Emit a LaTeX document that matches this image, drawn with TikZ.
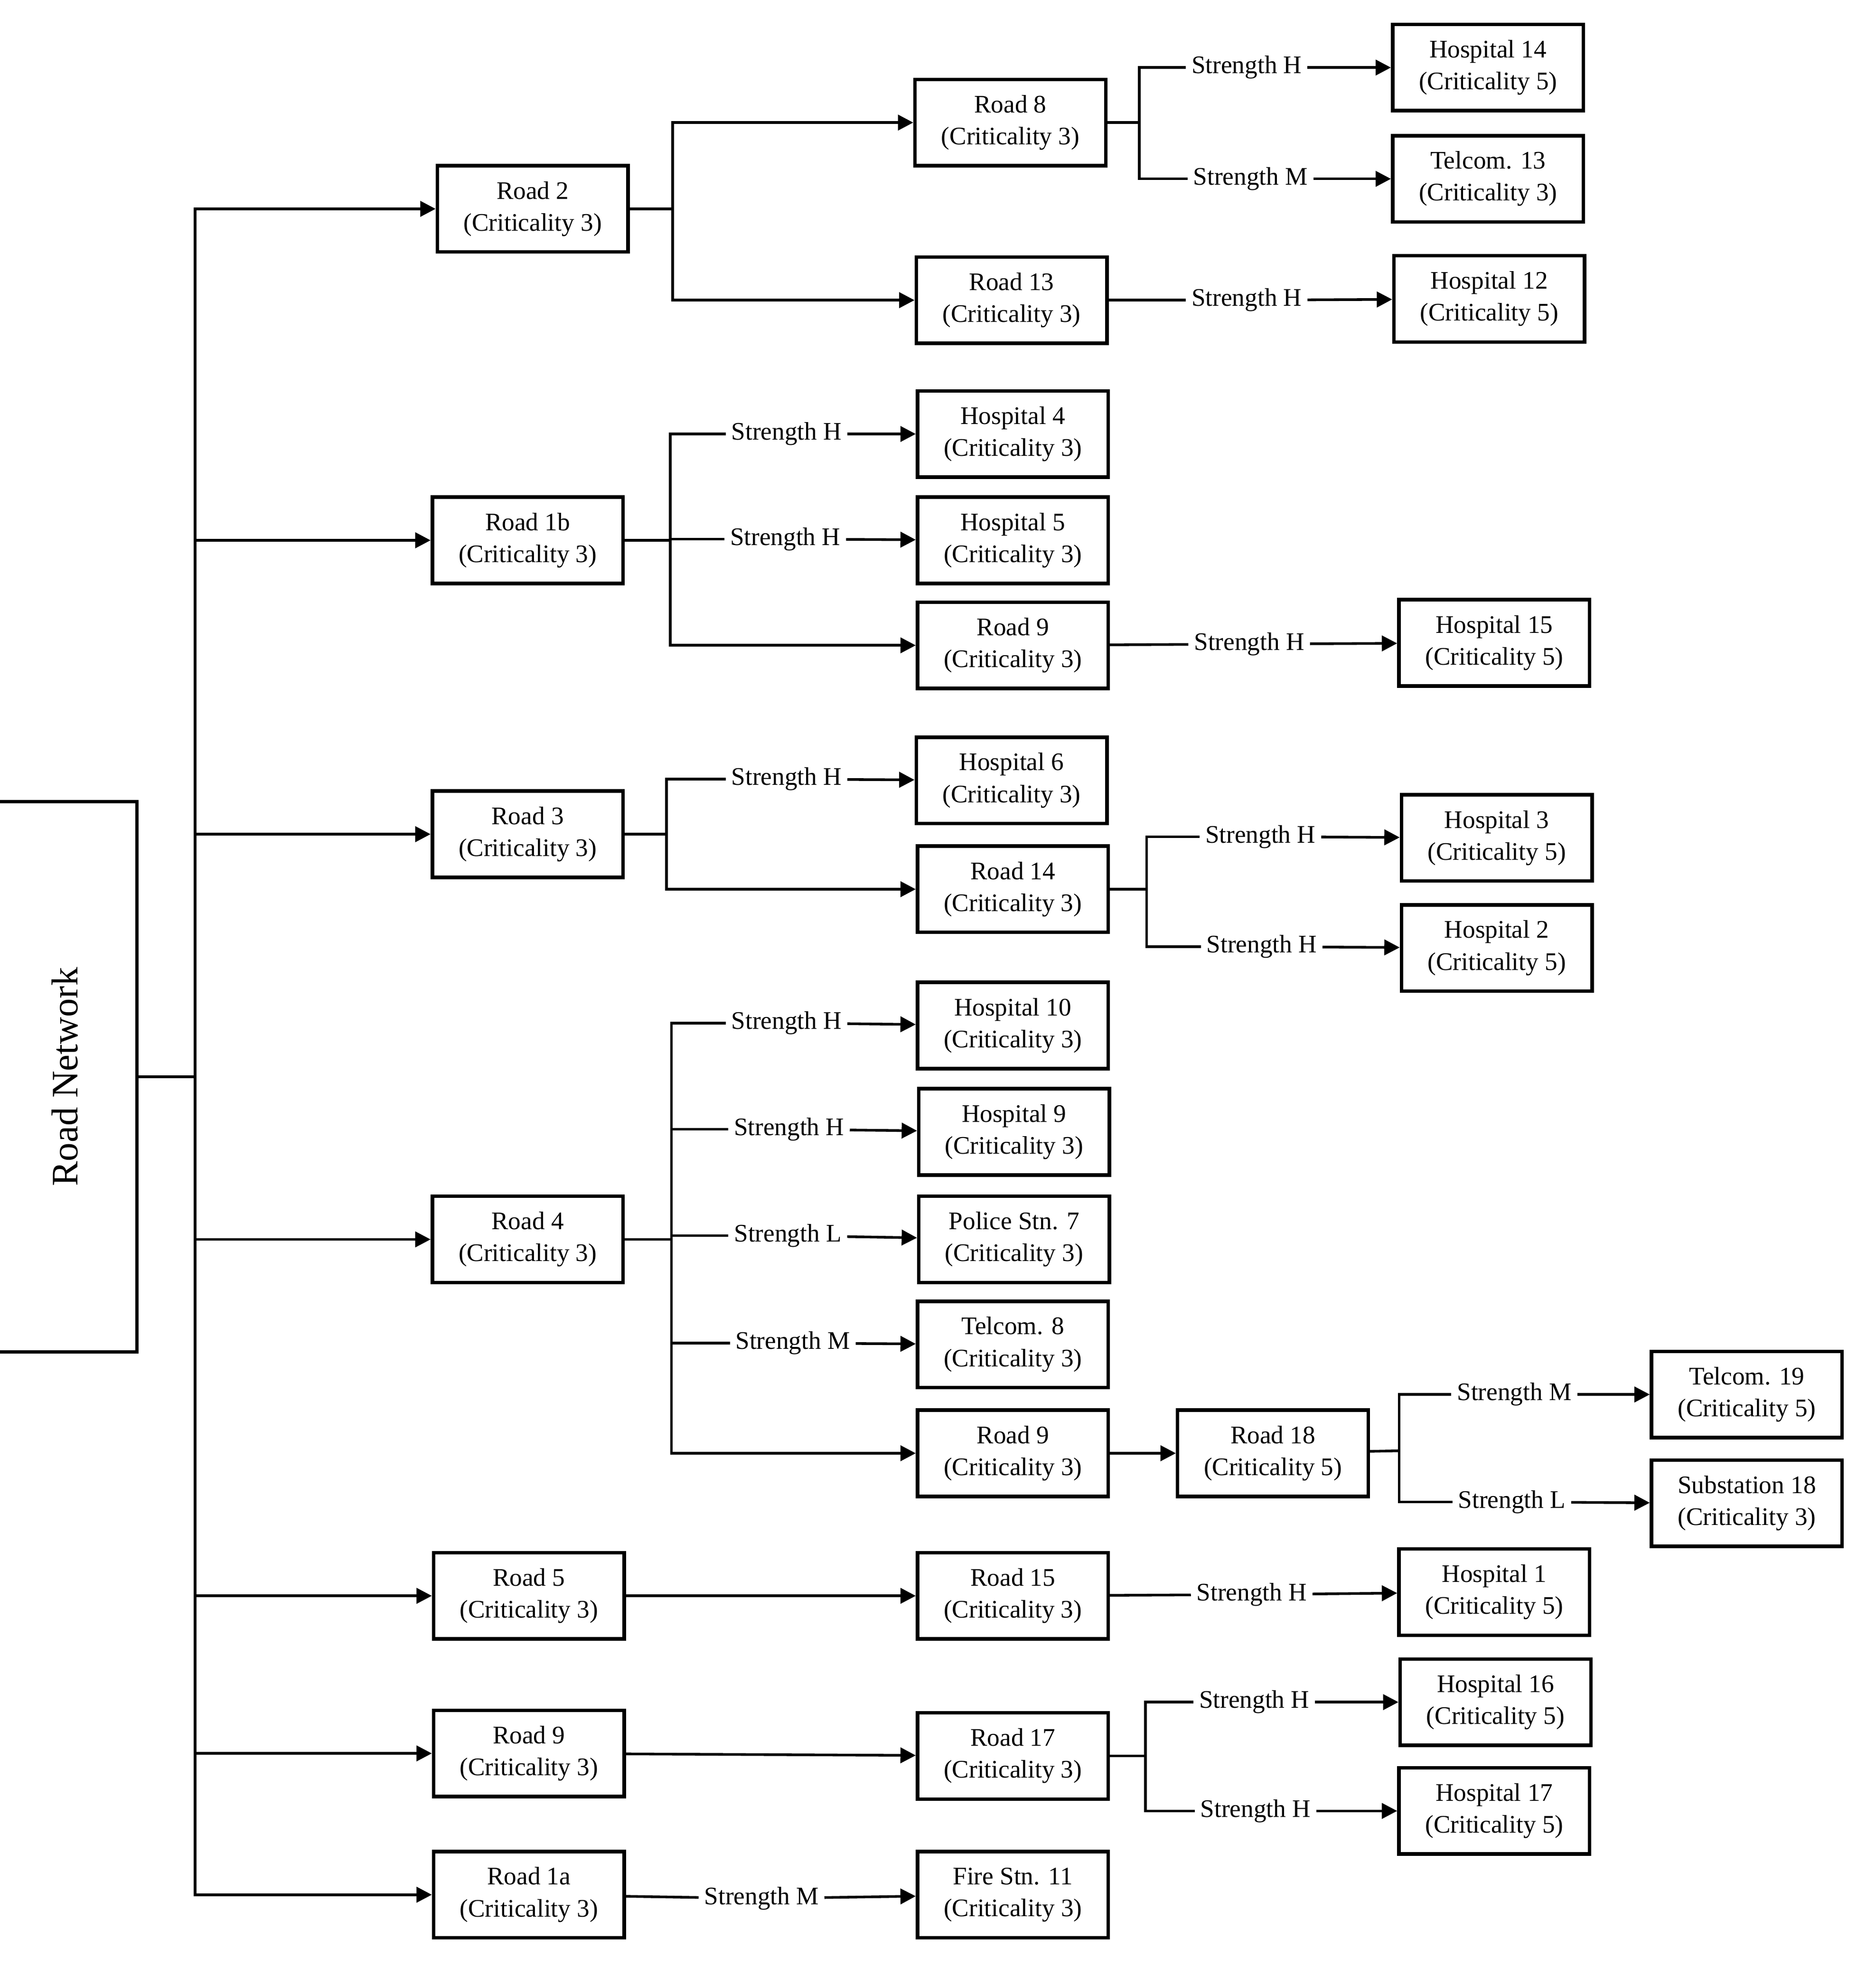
\documentclass[tikz,border=0pt]{standalone}
\usepackage{fontspec}
\setmainfont{Liberation Serif}
\usetikzlibrary{arrows.meta}

\begin{document}
\begin{tikzpicture}[x=0.02cm, y=-0.02cm,
  box/.style={draw, line width=1.6pt, minimum width=3.05cm, minimum height=1.38cm, align=center, inner sep=1pt, font=\fontsize{11.5}{14.5}\selectfont},
  lbl/.style={inner sep=2pt, font=\fontsize{11.5}{14}\selectfont},
  arr/.style={-{Triangle[length=7pt,width=7pt]}},
  every path/.style={line width=1.2pt}]
  \useasboundingbox (0,0) rectangle (1500,1580);

  % root
  \node[draw, line width=1.6pt, minimum width=2.3cm, minimum height=8.8cm] (RN) at (52,861) {};
  \node[rotate=90, font=\fontsize{17}{20}\selectfont] (RNt) at (RN.center) {Road Network};

  % first level
  \node[box] (R2)  at (426,167)  {Road 2\\(Criticality 3)};
  \node[box] (R1b) at (422,432)  {Road 1b\\(Criticality 3)};
  \node[box] (R3)  at (422,667)  {Road 3\\(Criticality 3)};
  \node[box] (R4)  at (422,991)  {Road 4\\(Criticality 3)};
  \node[box] (R5)  at (423,1276) {Road 5\\(Criticality 3)};
  \node[box] (R9a) at (423,1402) {Road 9\\(Criticality 3)};
  \node[box] (R1a) at (423,1515) {Road 1a\\(Criticality 3)};

  % second level
  \node[box] (R8)  at (808,98)   {Road 8\\(Criticality 3)};
  \node[box] (R13) at (809,240)  {Road 13\\(Criticality 3)};
  \node[box] (H4)  at (810,347)  {Hospital 4\\(Criticality 3)};
  \node[box] (H5)  at (810,432)  {Hospital 5\\(Criticality 3)};
  \node[box] (R9b) at (810,516)  {Road 9\\(Criticality 3)};
  \node[box] (H6)  at (809,624)  {Hospital 6\\(Criticality 3)};
  \node[box] (R14) at (810,711)  {Road 14\\(Criticality 3)};
  \node[box] (H10) at (810,820)  {Hospital 10\\(Criticality 3)};
  \node[box] (H9)  at (811,905)  {Hospital 9\\(Criticality 3)};
  \node[box] (P7)  at (811,991)  {Police Stn. 7\\(Criticality 3)};
  \node[box] (T8)  at (810,1075) {Telcom. 8\\(Criticality 3)};
  \node[box] (R9c) at (810,1162) {Road 9\\(Criticality 3)};
  \node[box] (R15) at (810,1276) {Road 15\\(Criticality 3)};
  \node[box] (R17) at (810,1404) {Road 17\\(Criticality 3)};
  \node[box] (F11) at (810,1515) {Fire Stn. 11\\(Criticality 3)};

  % third level
  \node[box] (H14) at (1190,54)   {Hospital 14\\(Criticality 5)};
  \node[box] (T13) at (1190,143)  {Telcom. 13\\(Criticality 3)};
  \node[box] (H12) at (1191,239)  {Hospital 12\\(Criticality 5)};
  \node[box] (H15) at (1195,514)  {Hospital 15\\(Criticality 5)};
  \node[box] (H3)  at (1197,670)  {Hospital 3\\(Criticality 5)};
  \node[box] (H2)  at (1197,758)  {Hospital 2\\(Criticality 5)};
  \node[box] (R18) at (1018,1162) {Road 18\\(Criticality 5)};
  \node[box] (H1)  at (1195,1273) {Hospital 1\\(Criticality 5)};
  \node[box] (H16) at (1196,1361) {Hospital 16\\(Criticality 5)};
  \node[box] (H17) at (1195,1448) {Hospital 17\\(Criticality 5)};
  \node[box] (T19) at (1397,1115) {Telcom. 19\\(Criticality 5)};
  \node[box] (S18) at (1397,1202) {Substation 18\\(Criticality 3)};

  % strength labels
  \node[lbl] (sH14) at (997,54)   {Strength H};
  \node[lbl] (sT13) at (1000,143) {Strength M};
  \node[lbl] (sH12) at (997,240)  {Strength H};
  \node[lbl] (sH4)  at (629,347)  {Strength H};
  \node[lbl] (sH5)  at (628,431)  {Strength H};
  \node[lbl] (sH15) at (999,515)  {Strength H};
  \node[lbl] (sH6)  at (629,623)  {Strength H};
  \node[lbl] (sH3)  at (1008,669) {Strength H};
  \node[lbl] (sH2)  at (1009,757) {Strength H};
  \node[lbl] (sH10) at (629,818)  {Strength H};
  \node[lbl] (sH9)  at (631,903)  {Strength H};
  \node[lbl] (sP7)  at (630,988)  {Strength L};
  \node[lbl] (sT8)  at (634,1074) {Strength M};
  \node[lbl] (sT19) at (1211,1115) {Strength M};
  \node[lbl] (sS18) at (1209,1201) {Strength L};
  \node[lbl] (sH1)  at (1001,1275) {Strength H};
  \node[lbl] (sH16) at (1003,1361) {Strength H};
  \node[lbl] (sH17) at (1004,1448) {Strength H};
  \node[lbl] (sF11) at (609,1518) {Strength M};

  % forks
  \coordinate (t)   at (156,861);
  \coordinate (f2)  at (538,167);
  \coordinate (f1b) at (536,432);
  \coordinate (f3)  at (533,667);
  \coordinate (f4)  at (537,991);
  \coordinate (f8)  at (911,98);
  \coordinate (f14) at (917,711);
  \coordinate (f18) at (1119,1160);
  \coordinate (f17) at (916,1404);

  % trunk
  \draw (RN) -- (t);
  \foreach \n in {R2,R1b,R3,R4,R5,R9a,R1a}
    \draw[arr] (t) |- (\n);

  % road 2
  \draw (R2) -- (f2);
  \draw[arr] (f2) |- (R8);
  \draw[arr] (f2) |- (R13);
  \draw (R8) -- (f8);
  \draw (f8) |- (sH14);
  \draw (f8) |- (sT13);
  \draw[arr] (sH14) -- (H14);
  \draw[arr] (sT13) -- (T13);
  \draw (R13) -- (sH12);
  \draw[arr] (sH12) -- (H12);

  % road 1b
  \draw (R1b) -- (f1b);
  \draw (f1b) |- (sH4);
  \draw (f1b) |- (sH5);
  \draw[arr] (f1b) |- (R9b);
  \draw[arr] (sH4) -- (H4);
  \draw[arr] (sH5) -- (H5);
  \draw (R9b) -- (sH15);
  \draw[arr] (sH15) -- (H15);

  % road 3
  \draw (R3) -- (f3);
  \draw (f3) |- (sH6);
  \draw[arr] (f3) |- (R14);
  \draw[arr] (sH6) -- (H6);
  \draw (R14) -- (f14);
  \draw (f14) |- (sH3);
  \draw (f14) |- (sH2);
  \draw[arr] (sH3) -- (H3);
  \draw[arr] (sH2) -- (H2);

  % road 4
  \draw (R4) -- (f4);
  \foreach \s/\b in {sH10/H10, sH9/H9, sP7/P7, sT8/T8} {
    \draw (f4) |- (\s);
    \draw[arr] (\s) -- (\b);
  }
  \draw[arr] (f4) |- (R9c);
  \draw[arr] (R9c) -- (R18);
  \draw (R18) -- (f18);
  \draw (f18) |- (sT19);
  \draw (f18) |- (sS18);
  \draw[arr] (sT19) -- (T19);
  \draw[arr] (sS18) -- (S18);

  % roads 5, 9, 1a
  \draw[arr] (R5) -- (R15);
  \draw (R15) -- (sH1);
  \draw[arr] (sH1) -- (H1);
  \draw[arr] (R9a) -- (R17);
  \draw (R17) -- (f17);
  \draw (f17) |- (sH16);
  \draw (f17) |- (sH17);
  \draw[arr] (sH16) -- (H16);
  \draw[arr] (sH17) -- (H17);
  \draw (R1a) -- (sF11);
  \draw[arr] (sF11) -- (F11);
\end{tikzpicture}
\end{document}
